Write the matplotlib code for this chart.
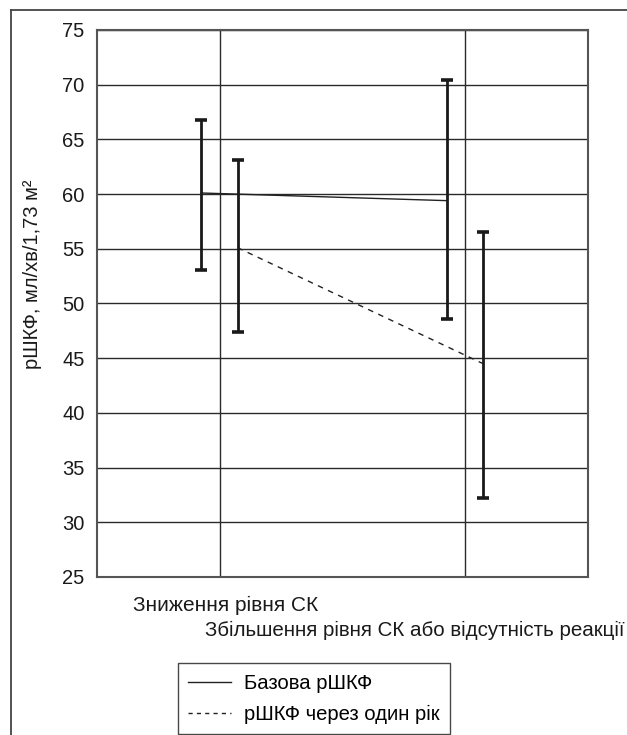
import matplotlib.pyplot as plt
import numpy as np
from matplotlib.lines import Line2D

plt.rcParams['font.family'] = ['Liberation Sans', 'DejaVu Sans']

# data
groups = ['Зниження рівня СК', 'Збільшення рівня СК або відсутність реакції']
base_mean = [60.1, 59.4]
base_lo = [53.1, 48.6]
base_hi = [66.8, 70.4]
year_mean = [55.1, 44.5]
year_lo = [47.4, 32.2]
year_hi = [63.1, 56.5]
series_names = ['Базова рШКФ', 'рШКФ через один рік']
ylabel = 'рШКФ, мл/хв/1,73 м²'

fig = plt.figure(figsize=(6.27, 7.35), dpi=100)
ax = fig.add_axes([0.1547, 0.2150, 0.7831, 0.7442])

centres = np.array([1.0, 3.0])
x_base = centres - 0.15
x_year = centres + 0.145

base_mean = np.array(base_mean)
year_mean = np.array(year_mean)
base_err = [base_mean - np.array(base_lo), np.array(base_hi) - base_mean]
year_err = [year_mean - np.array(year_lo), np.array(year_hi) - year_mean]

ax.plot(x_base, base_mean, color='#222222', lw=1.0, ls='-', zorder=3)
ax.plot(x_year, year_mean, color='#222222', lw=1.0, ls=(0, (4, 4)), zorder=3)
ax.errorbar(x_base, base_mean, yerr=base_err, fmt='none', ecolor='#1a1a1a',
            elinewidth=2.0, capsize=4.6, capthick=2.6, zorder=4)
ax.errorbar(x_year, year_mean, yerr=year_err, fmt='none', ecolor='#1a1a1a',
            elinewidth=2.0, capsize=4.6, capthick=2.6, zorder=4)

ax.set_xlim(0, 4)
ax.set_ylim(25, 75)
ax.set_yticks(np.arange(25, 76, 5))
ax.set_xticks(centres)
ax.set_xticklabels([])
ax.grid(True, color='#2a2a2a', lw=1.0)
ax.tick_params(length=0, labelsize=14.5, pad=9, colors='#1a1a1a')
for s in ax.spines.values():
    s.set_color('#555555')
    s.set_linewidth(1.5)

# category labels (staggered like the original)
ax.text(1.05, -0.035, groups[0], transform=ax.get_xaxis_transform(),
        ha='center', va='top', fontsize=15, color='#1a1a1a')
ax.text(1.0755, -0.08, groups[1], transform=ax.transAxes,
        ha='right', va='top', fontsize=14.8, color='#1a1a1a')

fig.text(33 / 627, 1 - 274 / 735, ylabel, rotation=90, ha='center',
         va='center', fontsize=14.5, color='#1a1a1a')

# outer frame (left and top only, the rest is cropped)
fig.add_artist(Line2D([11 / 627, 11 / 627], [0, 1 - 10 / 735],
                      transform=fig.transFigure, color='#444444', lw=1.3))
fig.add_artist(Line2D([11 / 627, 1], [1 - 10 / 735, 1 - 10 / 735],
                      transform=fig.transFigure, color='#444444', lw=1.3))

handles = [Line2D([], [], color='#222222', lw=1.0),
           Line2D([], [], color='#222222', lw=1.0, ls=(0, (3, 3)))]
leg = fig.legend(handles, series_names, loc='lower left',
                 bbox_to_anchor=(178 / 627, 1 / 735), fontsize=14.6,
                 frameon=True, fancybox=False, handlelength=2.1,
                 borderpad=0.5, labelspacing=0.6, handletextpad=0.65,
                 borderaxespad=0.0)
leg.get_frame().set_edgecolor('#1a1a1a')
leg.get_frame().set_linewidth(1.0)

fig.savefig('out.png', dpi=100)
